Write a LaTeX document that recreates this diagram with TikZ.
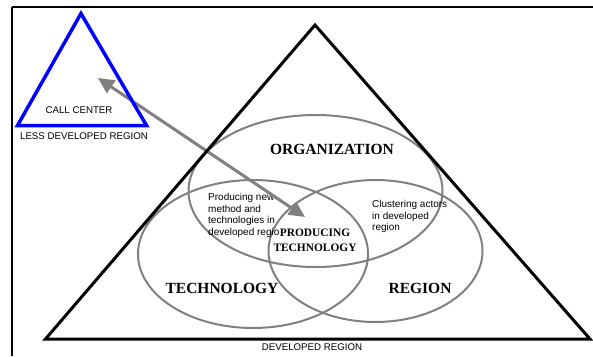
\documentclass[tikz,border=0pt]{standalone}
\usepackage{fontspec}
\setmainfont{Liberation Serif}
\setsansfont{Liberation Sans}
\usetikzlibrary{positioning}
\usetikzlibrary{arrows.meta}
\usetikzlibrary{shapes.geometric}

\tikzset{
  ring/.style={draw=gray, line width=2pt, ellipse, inner sep=0pt},
  big/.style={font=\bfseries\fontsize{15.5}{17}\selectfont, inner sep=0pt},
  mid/.style={font=\bfseries\fontsize{11.4}{14}\selectfont, inner sep=0pt},
  note/.style={font=\sffamily\fontsize{10}{11.7}\selectfont, align=left, inner sep=0pt},
  caps/.style={font=\sffamily\fontsize{9.7}{11}\selectfont, inner sep=0pt},
}

\begin{document}
\begin{tikzpicture}[x=1pt,y=-1pt]
		\useasboundingbox (0,0) rectangle (593,356);
		% frame
		\draw[line width=2pt] (12,7) -- (593,7);
		\draw[line width=1.5pt] (12,7) -- (12,356);
		% the three rings
		\node (org) [ring, minimum width=254pt, minimum height=152pt] at (315.5,191) {};
		\node (tech) [ring, minimum width=230pt, minimum height=148pt] at (253,254) {};
		\node (reg) [ring, minimum width=214pt, minimum height=142pt] at (375.5,251) {};
		% labels
		\node (orgT) [big] at (332,149) {ORGANIZATION};
		\node (techT) [big] at (222,288) {TECHNOLOGY};
		\node (regT) [big] at (420,288) {REGION};
		\node (newT) [note, anchor=west] at (208,215.5) {Producing new\\method and\\technologies in\\developed region};
		\node (clusT) [note, anchor=west] at (372,216.5) {Clustering actors\\in developed\\region};
		\node (prod) [mid, fill=white] at (315,233) {PRODUCING};
		\node (prod2) [mid, below=6.5pt of prod] {TECHNOLOGY};
		% arrow
		\coordinate (c1) at (98,78);
		\coordinate (c2) at (305,217);
		\draw[{Triangle[length=16pt,width=15pt]}-{Triangle[length=16pt,width=15pt]}, draw=gray, fill=gray, line width=3pt] (c1) -- (c2);
		% triangles
		\draw[blue, line width=3.5pt] (81,13.5) -- (146.5,125.5) -- (17.5,125.5) -- cycle;
		\draw[line width=3pt] (315,25) -- (590,339) -- (45.5,339) -- cycle;
		\node (call) [caps] at (79,110) {CALL CENTER};
		\node (less) [caps] at (84,136) {LESS DEVELOPED REGION};
		\node (dev) [caps] at (312,347) {DEVELOPED REGION};
\end{tikzpicture}
\end{document}
